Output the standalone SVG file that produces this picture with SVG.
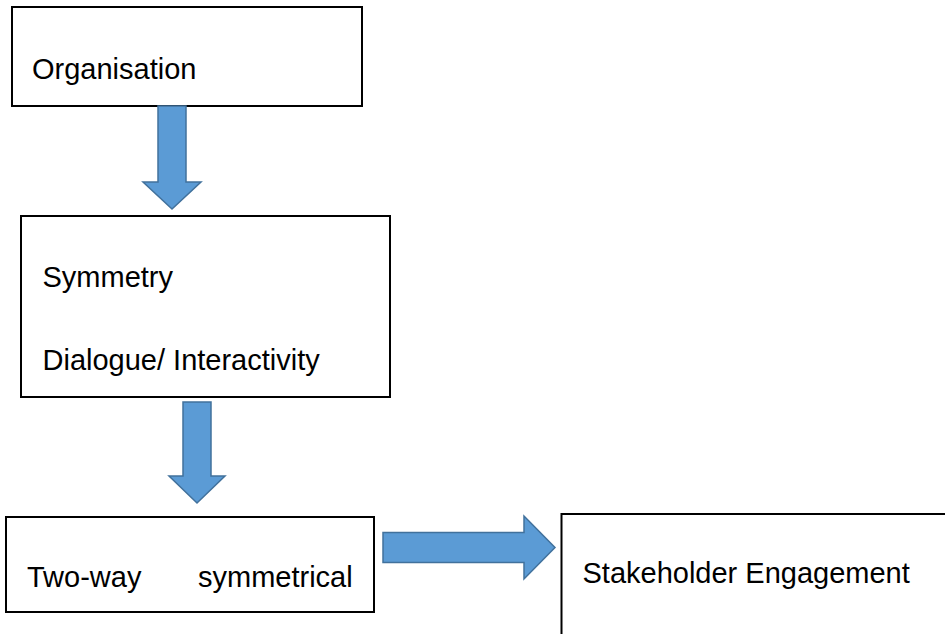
<svg xmlns="http://www.w3.org/2000/svg" width="945" height="634" viewBox="0 0 945 634">
<style>
.box{fill:#fff;stroke:#000;stroke-width:2}
.t{font-family:"Liberation Sans",Arial,sans-serif;font-size:29px;fill:#000}
.arr{fill:#5B9BD5;stroke:#41719C;stroke-width:1.5;stroke-linejoin:miter}
</style>
<rect width="945" height="634" fill="#fff"/>
<g id="organisation">
<rect class="box" x="12" y="7" width="350" height="99"/>
<text class="t" x="32" y="79">Organisation</text>
</g>
<g id="symmetry">
<rect class="box" x="21" y="216" width="369" height="181"/>
<text class="t" x="42.5" y="287">Symmetry</text>
<text class="t" x="42.5" y="370">Dialogue/ Interactivity</text>
</g>
<g id="two-way">
<rect class="box" x="6" y="517" width="368" height="95"/>
<text class="t" x="27" y="587">Two-way</text>
<text class="t" x="198" y="587">symmetrical</text>
</g>
<g id="stakeholder">
<rect class="box" x="561.5" y="514" width="400" height="140"/>
<text class="t" x="582.5" y="583">Stakeholder Engagement</text>
</g>
<g id="connectors">
<polygon class="arr" points="158,106 186,106 186,182 201,182 172,209 143,182 158,182"/>
<polygon class="arr" points="183,402 211,402 211,476 225,476 197,503 169,476 183,476"/>
<polygon class="arr" points="383,532.5 524,532.5 524,516 555,547.5 524,579 524,562.5 383,562.5"/>
</g>
</svg>
